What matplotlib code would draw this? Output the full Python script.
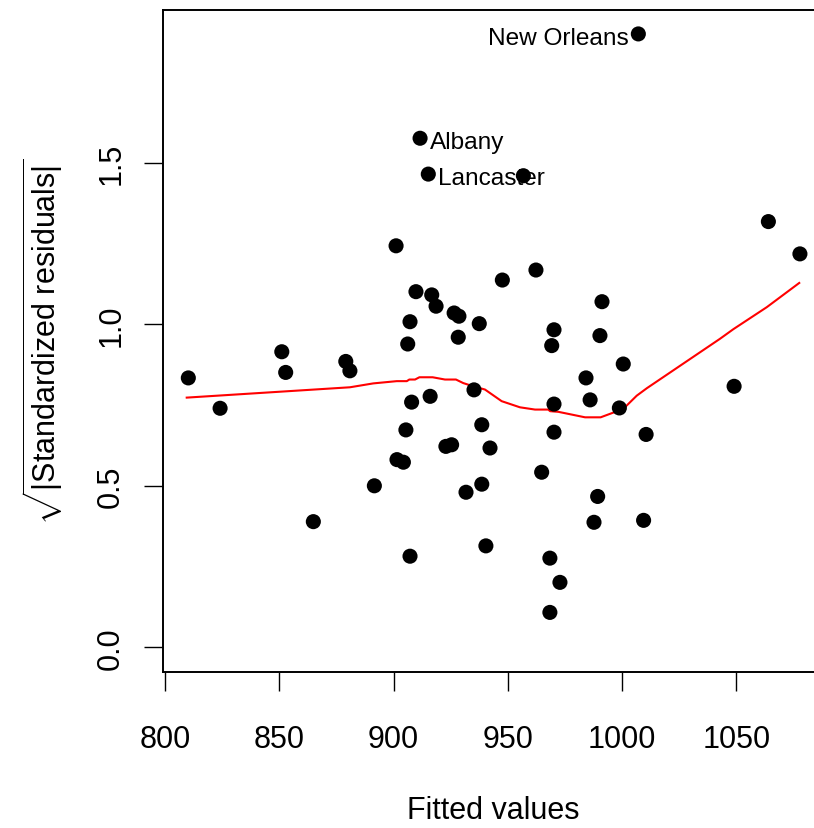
import numpy as np
import matplotlib.pyplot as plt

# Scale-location plot (sqrt |standardized residuals| vs fitted values)

fitted = [810.2, 824.1, 851.1, 852.8, 864.9, 879.1, 880.9, 891.6, 901.1, 901.5,
          904.3, 905.4, 906.2, 907.2, 907.2, 907.9, 909.8, 911.6, 915.2, 916.0,
          916.7, 918.6, 922.9, 925.4, 926.5, 928.6, 928.3, 931.7, 935.2, 937.5,
          938.6, 938.6, 940.4, 942.2, 947.6, 956.8, 962.3, 964.8, 968.4, 968.4,
          969.2, 970.2, 970.2, 970.2, 972.8, 984.2, 986.0, 987.7, 989.3, 990.3,
          991.2, 998.8, 1000.5, 1007.1, 1009.4, 1010.5, 1049.0, 1064.0, 1077.8]
sqrt_resid = [0.834, 0.740, 0.915, 0.851, 0.389, 0.885, 0.856, 0.500, 1.243, 0.581,
              0.573, 0.673, 0.939, 1.008, 0.282, 0.759, 1.101, 1.576, 1.465, 0.777,
              1.091, 1.056, 0.622, 0.627, 1.035, 1.025, 0.960, 0.480, 0.797, 1.002,
              0.689, 0.505, 0.314, 0.617, 1.137, 1.460, 1.168, 0.542, 0.276, 0.108,
              0.934, 0.983, 0.753, 0.666, 0.201, 0.834, 0.766, 0.387, 0.467, 0.965,
              1.070, 0.741, 0.877, 1.899, 0.393, 0.659, 0.808, 1.318, 1.218]

# smoother (red line)
smooth_x = [809.5, 880.9, 891.1, 901.4, 905.8, 906.9, 909.4, 911.3, 917.1, 922.5,
            927.3, 930.5, 934.9, 940.0, 947.3, 955.3, 961.9, 967.7, 968.5, 972.1,
            983.8, 990.6, 1000.5, 1006.4, 1010.8, 1042.8, 1048.7, 1063.3, 1077.5]
smooth_y = [0.773, 0.805, 0.817, 0.824, 0.824, 0.829, 0.829, 0.836, 0.836, 0.829,
            0.829, 0.818, 0.808, 0.798, 0.762, 0.743, 0.736, 0.736, 0.731, 0.729,
            0.712, 0.712, 0.738, 0.779, 0.802, 0.955, 0.985, 1.053, 1.128]

# labelled points: name, x, y, side
labels = [("New Orleans", 1007.1, 1.899, "left"),
          ("Albany", 911.6, 1.576, "right"),
          ("Lancaster", 915.2, 1.465, "right")]

xticks = [800, 850, 900, 950, 1000, 1050]
yticks = [0.0, 0.5, 1.0, 1.5]

plt.rcParams["font.family"] = "Liberation Sans"
plt.rcParams["mathtext.fontset"] = "custom"
plt.rcParams["mathtext.rm"] = "Liberation Sans"
plt.rcParams["mathtext.it"] = "Liberation Sans:italic"

W, H = 814, 829
fig = plt.figure(figsize=(W / 100, H / 100), dpi=100)
ax = fig.add_axes([163 / W, (H - 673) / H, (W - 163) / W, (673 - 10.7) / H])

ax.scatter(fitted, sqrt_resid, s=118, color="black", edgecolors="none", zorder=3)
ax.plot(smooth_x, smooth_y, color="red", lw=1.5, zorder=2)

for name, x, y, side in labels:
    if side == "left":
        ax.annotate(name, (x, y), xytext=(-7, -7), textcoords="offset points",
                    ha="right", va="baseline", fontsize=17.6)
    else:
        ax.annotate(name, (x, y), xytext=(7, -7), textcoords="offset points",
                    ha="left", va="baseline", fontsize=17.6)

ax.set_xlim(799.12, 1083.96)
ax.set_ylim(-0.0765, 1.974)

ax.set_xticks(xticks)
ax.set_xticklabels([str(t) for t in xticks], fontsize=22)
ax.set_yticks(yticks)
ax.set_yticklabels(["%.1f" % t for t in yticks], fontsize=22, rotation=90, va="center")

ax.tick_params(axis="x", length=13.5, width=1.0, pad=24)
ax.tick_params(axis="y", length=13.5, width=1.0, pad=13)
for side in ["left", "bottom", "top"]:
    ax.spines[side].set_linewidth(1.4)
ax.spines["right"].set_visible(False)

fig.text(493 / W, 1 - 819 / H, "Fitted values", ha="center", va="baseline", fontsize=22)
fig.text(43 / W, 1 - 342 / H, r"$\sqrt{|\mathrm{Standardized\ residuals}|}$",
         ha="center", va="center", rotation=90, fontsize=22)

fig.savefig("out.png", dpi=100)
